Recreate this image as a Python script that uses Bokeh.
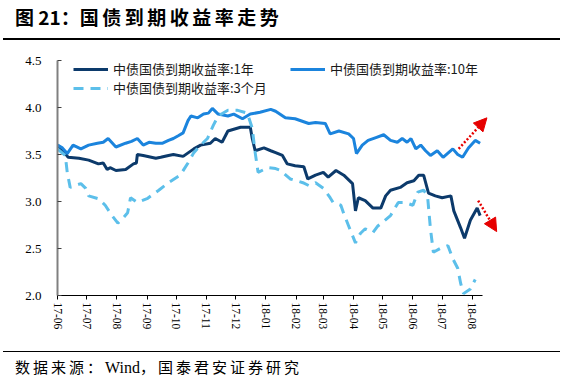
import math
import pandas as pd
from bokeh.plotting import figure
from bokeh.models import (FixedTicker, DatetimeTickFormatter, NumeralTickFormatter, Legend,
                          LegendItem, Arrow, NormalHead, Div, Range1d)
from bokeh.layouts import column
from bokeh.embed import file_html
from bokeh.resources import INLINE

# ---------------- data ----------------
dates_1y = ["2017-06-01", "2017-06-06", "2017-06-12", "2017-06-23", "2017-07-03", "2017-07-13",
            "2017-07-18", "2017-07-22", "2017-07-25", "2017-07-31", "2017-08-10", "2017-08-18",
            "2017-08-21", "2017-08-22", "2017-08-28", "2017-09-10", "2017-09-15", "2017-09-23",
            "2017-09-28", "2017-10-08", "2017-10-19", "2017-10-26", "2017-11-05", "2017-11-10",
            "2017-11-17", "2017-11-23", "2017-12-06", "2017-12-16", "2017-12-18", "2017-12-21",
            "2017-12-30", "2018-01-06", "2018-01-11", "2018-01-18", "2018-01-23", "2018-01-31",
            "2018-02-09", "2018-02-13", "2018-02-21", "2018-03-01", "2018-03-06", "2018-03-14",
            "2018-03-22", "2018-03-31", "2018-04-03", "2018-04-06", "2018-04-13", "2018-04-21",
            "2018-04-29", "2018-05-04", "2018-05-09", "2018-05-19", "2018-05-26", "2018-06-02",
            "2018-06-07", "2018-06-12", "2018-06-17", "2018-06-24", "2018-07-01", "2018-07-10",
            "2018-07-13", "2018-07-20", "2018-07-24", "2018-07-30", "2018-08-06", "2018-08-09"]
yield_1y = [3.60, 3.55, 3.47, 3.46, 3.44, 3.40, 3.41, 3.34, 3.36, 3.33, 3.34, 3.40,
            3.41, 3.50, 3.49, 3.46, 3.47, 3.49, 3.50, 3.48, 3.56, 3.60, 3.62, 3.67,
            3.63, 3.75, 3.79, 3.79, 3.67, 3.54, 3.57, 3.54, 3.52, 3.49, 3.40, 3.38,
            3.37, 3.24, 3.28, 3.31, 3.26, 3.33, 3.28, 3.19, 2.90, 3.04, 3.01, 2.93,
            2.93, 3.06, 3.12, 3.15, 3.20, 3.22, 3.28, 3.28, 3.09, 3.06, 3.04, 3.06,
            2.90, 2.72, 2.61, 2.80, 2.93, 2.85]

dates_10y = ["2017-06-01", "2017-06-06", "2017-06-11", "2017-06-17", "2017-06-25", "2017-07-03",
             "2017-07-12", "2017-07-18", "2017-07-23", "2017-07-31", "2017-08-10", "2017-08-16",
             "2017-08-22", "2017-08-28", "2017-09-03", "2017-09-10", "2017-09-17", "2017-09-23",
             "2017-09-28", "2017-10-03", "2017-10-08", "2017-10-13", "2017-10-16", "2017-10-23",
             "2017-10-29", "2017-11-03", "2017-11-07", "2017-11-13", "2017-11-23", "2017-11-29",
             "2017-12-08", "2017-12-16", "2017-12-26", "2018-01-06", "2018-01-11", "2018-01-21",
             "2018-01-31", "2018-02-14", "2018-02-21", "2018-03-03", "2018-03-08", "2018-03-17",
             "2018-03-27", "2018-04-01", "2018-04-04", "2018-04-10", "2018-04-16", "2018-04-24",
             "2018-05-02", "2018-05-09", "2018-05-16", "2018-05-21", "2018-05-26", "2018-05-30",
             "2018-06-04", "2018-06-09", "2018-06-14", "2018-06-19", "2018-06-26", "2018-07-02",
             "2018-07-12", "2018-07-17", "2018-07-22", "2018-07-28", "2018-08-04", "2018-08-09"]
yield_10y = [3.60, 3.57, 3.51, 3.60, 3.56, 3.60, 3.62, 3.63, 3.67, 3.58, 3.62, 3.64,
             3.67, 3.60, 3.63, 3.62, 3.62, 3.65, 3.67, 3.70, 3.73, 3.86, 3.91, 3.89,
             3.93, 3.94, 3.99, 3.93, 3.91, 3.93, 3.88, 3.93, 3.95, 3.98, 3.96, 3.89,
             3.88, 3.83, 3.84, 3.83, 3.72, 3.75, 3.72, 3.67, 3.51, 3.60, 3.65, 3.68,
             3.71, 3.65, 3.63, 3.67, 3.63, 3.67, 3.56, 3.60, 3.54, 3.49, 3.54, 3.47,
             3.56, 3.50, 3.47, 3.57, 3.65, 3.62]

dates_3m = ["2017-06-01", "2017-06-09", "2017-06-11", "2017-06-14", "2017-06-19", "2017-06-25",
            "2017-06-30", "2017-07-03", "2017-07-13", "2017-07-20", "2017-07-27", "2017-08-02",
            "2017-08-07", "2017-08-12", "2017-08-15", "2017-08-22", "2017-09-01", "2017-09-13",
            "2017-09-23", "2017-10-05", "2017-10-13", "2017-10-19", "2017-10-26", "2017-11-02",
            "2017-11-08", "2017-11-13", "2017-11-23", "2017-12-03", "2017-12-13", "2017-12-18",
            "2017-12-21", "2017-12-24", "2018-01-03", "2018-01-11", "2018-01-16", "2018-01-26",
            "2018-02-08", "2018-02-14", "2018-02-21", "2018-03-01", "2018-03-08", "2018-03-11",
            "2018-03-19", "2018-03-22", "2018-03-27", "2018-04-03", "2018-04-08", "2018-04-13",
            "2018-04-21", "2018-04-26", "2018-05-01", "2018-05-09", "2018-05-17", "2018-05-24",
            "2018-06-01", "2018-06-06", "2018-06-12", "2018-06-16", "2018-06-19", "2018-06-22",
            "2018-06-29", "2018-07-07", "2018-07-12", "2018-07-17", "2018-07-20", "2018-07-23",
            "2018-07-30", "2018-08-04"]
yield_3m = [3.56, 3.49, 3.31, 3.15, 3.17, 3.19, 3.14, 3.06, 3.03, 2.96, 2.85, 2.77,
            2.82, 2.88, 3.04, 2.99, 3.03, 3.12, 3.20, 3.28, 3.41, 3.52, 3.60, 3.67,
            3.81, 3.91, 3.97, 3.97, 3.94, 3.78, 3.52, 3.31, 3.36, 3.35, 3.33, 3.24,
            3.20, 3.17, 3.20, 3.14, 3.04, 2.99, 2.96, 2.87, 2.74, 2.56, 2.66, 2.71,
            2.67, 2.74, 2.78, 2.85, 2.99, 2.99, 2.96, 3.10, 3.12, 3.06, 2.71, 2.46,
            2.50, 2.53, 2.39, 2.29, 2.13, 2.02, 2.07, 2.17]

tick_dates = ["2017-06-01", "2017-07-01", "2017-08-01", "2017-09-01", "2017-10-01", "2017-11-01",
              "2017-12-01", "2018-01-01", "2018-02-01", "2018-03-01", "2018-04-01", "2018-05-01",
              "2018-06-01", "2018-07-01", "2018-08-01"]
tick_labels = ["17-06", "17-07", "17-08", "17-09", "17-10", "17-11", "17-12", "18-01",
               "18-02", "18-03", "18-04", "18-05", "18-06", "18-07", "18-08"]
y_ticks = [2.0, 2.5, 3.0, 3.5, 4.0, 4.5]

series_names = ["中债国债到期收益率:1年", "中债国债到期收益率:10年", "中债国债到期收益率:3个月"]

# trend arrows (start date, start value, end date, end value)
arrow_up = ("2018-07-18", 3.56, "2018-08-16", 3.89)
arrow_down = ("2018-08-07", 3.01, "2018-08-26", 2.68)

title_text = "图 21："
title_rest = "国债到期收益率走势"
source_a = "数据来源："
source_b = "Wind"
source_c = "，国泰君安证券研究"


def ms(d):
    return pd.Timestamp(d).value / 1e6


# ---------------- figure ----------------
p = figure(width=564, height=307, x_axis_type="datetime", output_backend="svg",
           toolbar_location=None,
           x_range=Range1d(ms("2017-06-01"), ms("2018-09-01")), y_range=Range1d(2.0, 4.5),
           min_border_left=57, min_border_right=62, min_border_top=19, min_border_bottom=53)
p.outline_line_color = None
p.grid.visible = False
p.background_fill_color = "white"
p.border_fill_color = "white"

c1y, c10y, c3m = "#0c3a6b", "#1b84dd", "#5cbfea"
r1 = p.line(pd.to_datetime(dates_1y), yield_1y, line_color=c1y, line_width=3)
r10 = p.line(pd.to_datetime(dates_10y), yield_10y, line_color=c10y, line_width=3)
r3 = p.line(pd.to_datetime(dates_3m), yield_3m, line_color=c3m, line_width=3, line_dash="10 7")

# axes
xa = p.xaxis[0]
xa.bounds = (ms("2017-06-01"), ms("2018-08-11"))
xa.ticker = FixedTicker(ticks=[ms(d) for d in tick_dates])
xa.formatter = DatetimeTickFormatter(days="%y-%m", months="%y-%m", years="%y-%m")
xa.major_label_overrides = {ms(d): lab for d, lab in zip(tick_dates, tick_labels)}
xa.major_label_orientation = -math.pi / 2
xa.axis_line_color = "black"
xa.axis_line_width = 1.2
xa.major_tick_in = 0
xa.major_tick_out = 4
xa.major_tick_line_color = "black"
xa.minor_tick_line_color = None
xa.major_label_text_font = "Liberation Serif"
xa.major_label_text_font_size = "11.5px"
xa.major_label_text_color = "black"
xa.major_label_standoff = 3

ya = p.yaxis[0]
ya.ticker = FixedTicker(ticks=y_ticks)
ya.formatter = NumeralTickFormatter(format="0.0")
ya.axis_line_color = "#808080"
ya.axis_line_width = 2
ya.major_tick_in = 4
ya.major_tick_out = 0
ya.major_tick_line_color = "#404040"
ya.minor_tick_line_color = None
ya.major_label_text_font = "Liberation Serif"
ya.major_label_text_font_size = "13px"
ya.major_label_text_color = "black"
ya.major_label_standoff = 16

# legends (one per entry for exact placement)
def add_legend(label, renderer, loc):
    lg = Legend(items=[LegendItem(label=label, renderers=[renderer])], location=loc,
                glyph_width=35, glyph_height=18, label_height=18, label_standoff=5,
                padding=0, margin=0, spacing=0, border_line_color=None,
                background_fill_alpha=0, label_text_font="Noto Sans CJK SC",
                label_text_font_size="13px", label_text_color="#1a1a1a")
    p.add_layout(lg)

add_legend(series_names[0], r1, (16, 217))
add_legend(series_names[1], r10, (233, 217))
add_legend(series_names[2], r3, (16, 198))

# red dotted trend arrows
for a in (arrow_up, arrow_down):
    p.add_layout(Arrow(x_start=ms(a[0]), y_start=a[1], x_end=ms(a[2]), y_end=a[3],
                       line_color="#e60000", line_width=2.5, line_dash="2 2",
                       end=NormalHead(size=13, fill_color="#e60000", line_color="#e60000")))

# title and footer
title_div = Div(width=564, height=41, margin=0, text=(
    '<div style="margin-left:3px;width:557px;height:30px;padding-top:8px;'
    'border-bottom:2px solid #000;'
    'font-family:\'Noto Sans CJK SC\';font-weight:bold;font-size:19px;line-height:18px;'
    'color:#000;box-sizing:content-box;white-space:nowrap;">'
    f'<span style="padding-left:12px;">{title_text}</span>'
    f'<span style="letter-spacing:3.5px;">{title_rest}</span></div>'))

footer_div = Div(width=564, height=31, margin=0, text=(
    '<div style="margin-left:3px;margin-top:3px;width:557px;border-top:1.5px solid #000;'
    'font-family:\'Noto Sans CJK SC\';font-size:15px;line-height:16px;color:#000;'
    'padding-top:7px;white-space:nowrap;">'
    f'<span style="padding-left:12px;letter-spacing:3px;">{source_a}</span>'
    f'<span style="font-family:\'Liberation Serif\';font-size:16px;">{source_b}</span>'
    f'<span style="letter-spacing:3px;">{source_c}</span></div>'))

layout = column(title_div, p, footer_div, spacing=0)

open("out.html", "w").write(file_html(layout, INLINE))
